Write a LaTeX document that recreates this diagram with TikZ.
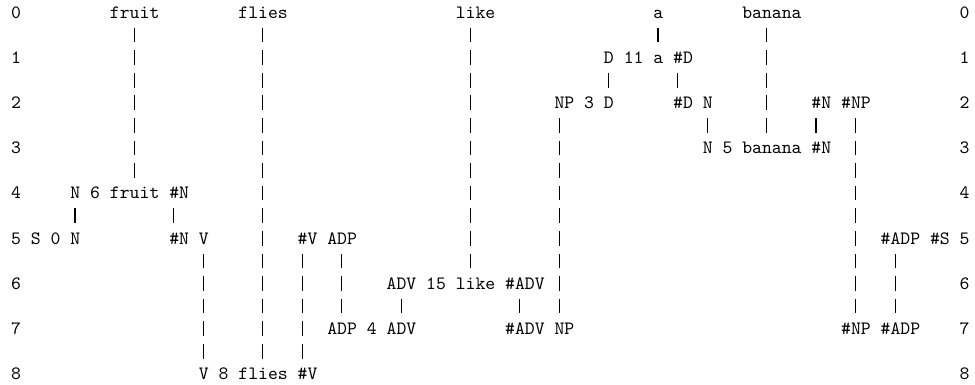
\documentclass[tikz,border=0pt]{standalone}
\usetikzlibrary{calc}
\newcommand*{\CellW}{5.25pt}
\newcommand*{\LineH}{12pt}
\newcommand*{\PutTokens}[1]{% #1 = list of name/column/line/text
  \foreach \nm/\col/\row/\txt in {#1} {
    \node [tok] (\nm) at ({\col*\CellW},{-\row*\LineH}) {\txt};
    }%
}
\newcommand*{\LinkCells}[1]{% #1 = list of upper/lower/column
  \foreach \up/\down/\col in {#1} {
    \coordinate (px) at ({(\col+.5)*\CellW},0);
    \draw [pipe] ($(\up.base -| px)+(0,6.94pt-\LineH)$)
      -- ($(\down.base -| px)+(0,\LineH-.83pt)$);
    }%
}
\tikzset{
  tok/.style={inner sep=0pt, anchor=base west, font=\ttfamily},
  pipe/.style={line width=.6pt, dash pattern=on 7.77pt off 4.23pt}
}

\begin{document}
\begin{tikzpicture}
    \useasboundingbox (-5.74pt,9.67pt) rectangle (512.35pt,-194.9pt);

    % row numbers on both sides
    \foreach \r in {0,...,8} {
        \node [tok] (l\r) at (0,{-2*\r*\LineH}) {\r};
        \node [tok] (r\r) at ({96*\CellW},{-2*\r*\LineH}) {\r};
    }

    \PutTokens{
        fruit/10/0/fruit,
        flies/23/0/flies,
        like/45/0/like,
        a/65/0/a,
        banana/74/0/banana,
        D11/60/2/D,
        n11/62/2/11,
        a11/65/2/a,
        hD11/67/2/\#D,
        NP3/55/4/NP,
        n3/58/4/3,
        D3/60/4/D,
        hD3/67/4/\#D,
        N3/70/4/N,
        hN3/81/4/\#N,
        hNP3/84/4/\#NP,
        N5/70/6/N,
        n5/72/6/5,
        banana5/74/6/banana,
        hN5/81/6/\#N,
        N6/6/8/N,
        n6/8/8/6,
        fruit6/10/8/fruit,
        hN6/16/8/\#N,
        S0/2/10/S,
        n0/4/10/0,
        N0/6/10/N,
        hN0/16/10/\#N,
        V0/19/10/V,
        hV0/29/10/\#V,
        ADP0/32/10/ADP,
        hADP0/88/10/\#ADP,
        hS0/93/10/\#S,
        ADV15/38/12/ADV,
        n15/42/12/15,
        like15/45/12/like,
        hADV15/50/12/\#ADV,
        ADP4/32/14/ADP,
        n4/36/14/4,
        ADV4/38/14/ADV,
        hADV4/50/14/\#ADV,
        NP4/55/14/NP,
        hNP4/84/14/\#NP,
        hADP4/88/14/\#ADP,
        V8/19/16/V,
        n8/21/16/8,
        flies8/23/16/flies,
        hV8/29/16/\#V
    }

    \LinkCells{
        fruit/fruit6/12,
        flies/flies8/25,
        like/like15/46,
        a/a11/65,
        banana/banana5/76,
        D11/D3/60,
        hD11/hD3/67,
        N3/N5/70,
        hN3/hN5/81,
        NP3/NP4/55,
        hNP3/hNP4/85,
        N6/N0/6,
        hN6/hN0/16,
        V0/V8/19,
        hV0/hV8/29,
        ADP0/ADP4/33,
        hADP0/hADP4/89,
        ADV15/ADV4/39,
        hADV15/hADV4/51
    }
\end{tikzpicture}
\end{document}
